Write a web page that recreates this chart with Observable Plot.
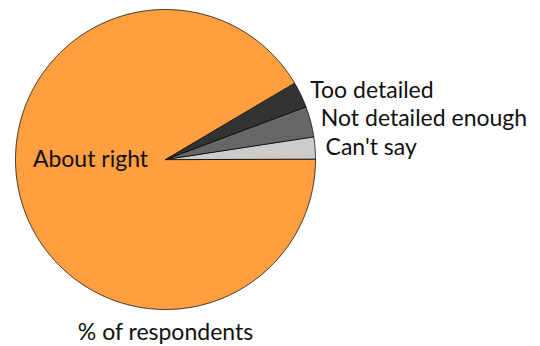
<!DOCTYPE html>
<html><head><meta charset="utf-8">
<script src="https://cdn.jsdelivr.net/npm/d3@7"></script>
<script src="https://cdn.jsdelivr.net/npm/@observablehq/plot@0.6"></script>
<style>body{margin:0;background:#fff}</style>
</head><body><div id="chart"></div>
<script>
// Slices in drawing order, counter-clockwise from 3 o'clock
const categories = ["Can't say", "Not detailed enough", "Too detailed", "About right"];
const values = [2.4, 3.3, 2.8, 91.5];
const colors = ["#cccccc", "#666666", "#333333", "#ff9f3f"];
const caption = "% of respondents";

const total = d3.sum(values);
let acc = 0;
const slices = categories.map((c, i) => {
  const a0 = acc / total * 2 * Math.PI;
  acc += values[i];
  const a1 = acc / total * 2 * Math.PI;
  return {c, a0, a1};
});
const pts = [];
for (const s of slices) {
  pts.push({c: s.c, x: 0, y: 0});
  const n = Math.max(2, Math.ceil((s.a1 - s.a0) / 0.005));
  for (let k = 0; k <= n; k++) {
    const a = s.a0 + (s.a1 - s.a0) * k / n;
    pts.push({c: s.c, x: Math.cos(a), y: Math.sin(a)});
  }
}
const labels = slices.map(s => {
  const big = s.a1 - s.a0 > Math.PI;
  const a = big ? Math.PI : (s.a0 + s.a1) / 2;
  const r = big ? 0.5 : 1.07;
  return {c: s.c, big, x: r * Math.cos(a), y: r * Math.sin(a)};
});

const chart = Plot.plot({
  width: 540, height: 346,
  marginLeft: 15, marginRight: 225, marginTop: 9, marginBottom: 37,
  x: {domain: [-1, 1], axis: null},
  y: {domain: [-1, 1], axis: null},
  color: {domain: categories, range: colors},
  style: {fontFamily: "Lato, sans-serif", background: "#fff"},
  marks: [
    Plot.line(pts, {x: "x", y: "y", z: "c", fill: "c", stroke: "#000", strokeWidth: 0.8, curve: "linear-closed"}),
    Plot.text(labels.filter(d => !d.big), {x: "x", y: "y", text: "c", textAnchor: "start", lineAnchor: "middle", fontSize: 23, fill: "#111"}),
    Plot.text(labels.filter(d => d.big), {x: "x", y: "y", text: "c", textAnchor: "middle", lineAnchor: "middle", fontSize: 23, fill: "#111"}),
    Plot.text([caption], {x: () => 0, y: () => -1.2, text: d => d, textAnchor: "middle", lineAnchor: "bottom", fontSize: 23, fill: "#111"})
  ]
});
document.getElementById("chart").append(chart);
</script>
</body></html>
